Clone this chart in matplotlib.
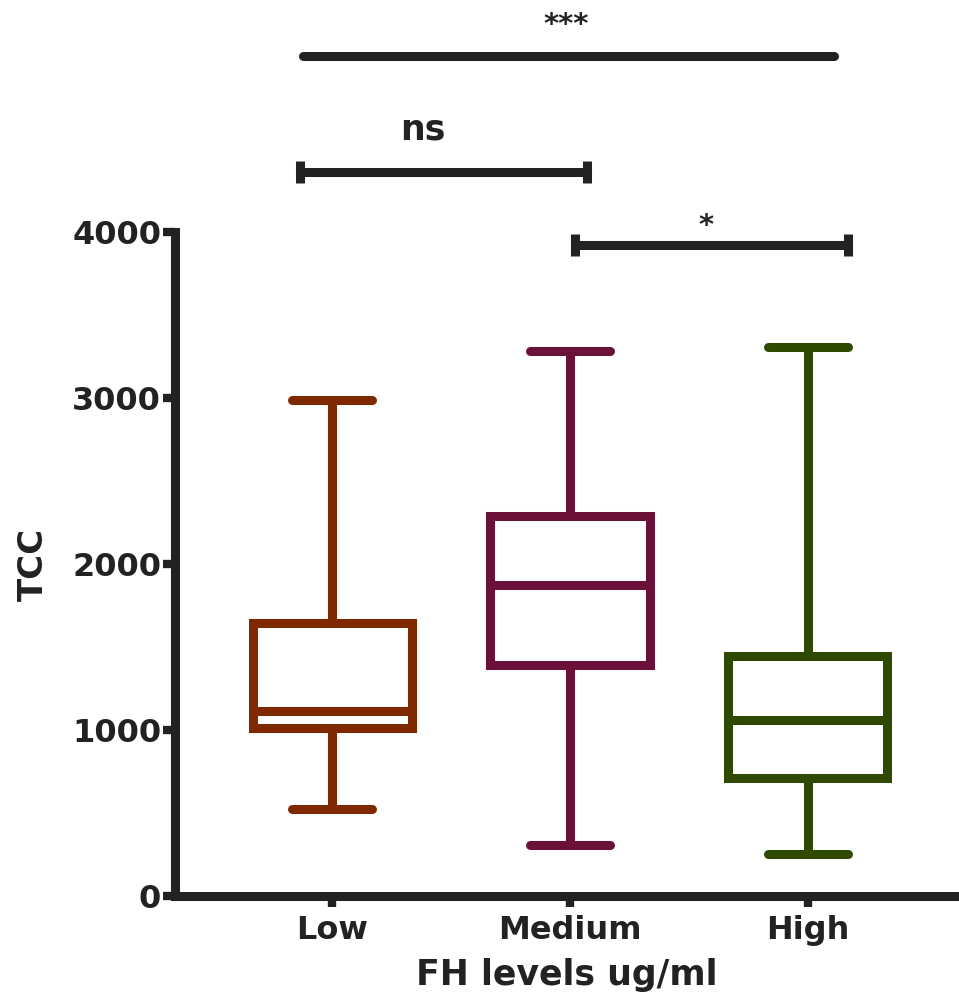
import matplotlib.pyplot as plt

plt.rcParams['font.family'] = ['DejaVu Sans']
plt.rcParams['font.weight'] = 'bold'

# Box statistics
groups = ['Low', 'Medium', 'High']
whislo = [524, 307, 253]
q1 = [1012, 1392, 711]
med = [1116, 1873, 1060]
q3 = [1645, 2289, 1446]
whishi = [2988, 3283, 3307]
colors = ['#7f2900', '#6b1039', '#2e4a00']

# Significance brackets: x start, x end, y, label, label x, label baseline y
sig_x1 = [0.878, 0.865, 2.02]
sig_x2 = [3.11, 2.07, 3.17]
sig_y = [5060, 4361, 3922]
sig_lab = ['***', 'ns', '*']
sig_tx = [1.985, 1.38, 2.57]
sig_ty = [5199, 4554, 3988]
sig_caps = [False, True, True]
sig_size = [21, 25, 21]

ink = '#222222'
lw = 6.5

fig = plt.figure(figsize=(9.59, 9.92), dpi=100)
ax = fig.add_axes([0.1825, 0.0968, 0.8175, 0.6694])

stats = []
for i in range(len(groups)):
    stats.append(dict(whislo=whislo[i], q1=q1[i], med=med[i], q3=q3[i],
                      whishi=whishi[i], label=groups[i]))

for i in range(len(groups)):
    c = colors[i]
    ax.bxp([stats[i]], positions=[i + 1], widths=0.67, showfliers=False,
           boxprops=dict(color=c, linewidth=lw, solid_joinstyle='miter'),
           medianprops=dict(color=c, linewidth=lw, solid_capstyle='butt'),
           whiskerprops=dict(color=c, linewidth=lw, solid_capstyle='butt'),
           capprops=dict(color=c, linewidth=lw, solid_capstyle='round'))

# significance bars
for i in range(len(sig_lab)):
    ax.plot([sig_x1[i], sig_x2[i]], [sig_y[i], sig_y[i]], color=ink,
            linewidth=lw, solid_capstyle='round', clip_on=False)
    if sig_caps[i]:
        ax.plot([sig_x1[i], sig_x2[i]], [sig_y[i], sig_y[i]], linestyle='none',
                marker='|', markersize=16, markeredgewidth=6.5,
                color=ink, clip_on=False)
    ax.text(sig_tx[i], sig_ty[i], sig_lab[i], ha='center', va='baseline',
            fontsize=sig_size[i], fontweight='bold', color=ink)

ax.set_xlim(0.339, 3.636)
ax.set_ylim(0, 4000)
ax.set_xticks([1, 2, 3])
ax.set_xticklabels(groups)
ax.set_yticks([0, 1000, 2000, 3000, 4000])

for s in ['top', 'right']:
    ax.spines[s].set_visible(False)
for s in ['left', 'bottom']:
    ax.spines[s].set_linewidth(lw)
    ax.spines[s].set_color(ink)
    ax.spines[s].set_capstyle('projecting')

ax.tick_params(axis='y', length=9, width=6, color=ink, pad=1,
               labelsize=23, labelcolor=ink)
ax.tick_params(axis='x', length=8, width=6, color=ink, pad=6,
               labelsize=23, labelcolor=ink)
for t in ax.get_xticklabels() + ax.get_yticklabels():
    t.set_fontweight('bold')

ax.set_ylabel('TCC', fontsize=24.5, fontweight='bold', color=ink, labelpad=16)
ax.set_xlabel('FH levels ug/ml', fontsize=25, fontweight='bold', color=ink,
              labelpad=8)

fig.savefig('out.png', dpi=100)
